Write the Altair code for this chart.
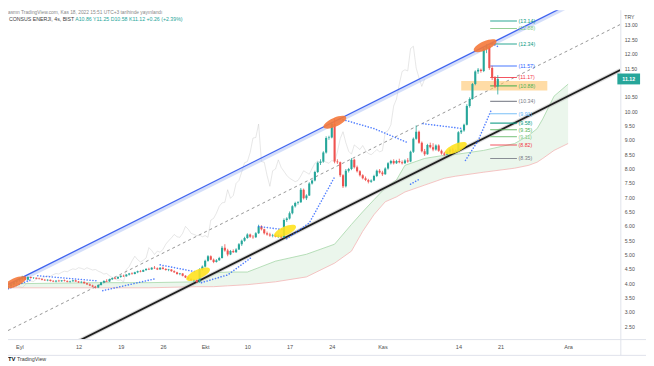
import altair as alt
import pandas as pd

# ---------------- data ----------------
# 4h bars of CONSUS ENERJI (BIST), 3 bars per trading day, bar 0 = 1 Sep 2022 first bar
first_bar = -4
opens = [
    3.86, 3.90, 3.96, 4.04, 4.10, 4.16, 4.22, 4.12, 4.22, 4.18,
    4.19, 4.16, 4.15, 4.12, 4.10, 4.12, 4.08, 4.06, 4.09, 4.07,
    4.10, 4.08, 4.05, 4.07, 4.10, 4.06, 4.03, 4.05, 4.00, 3.96,
    3.92, 3.88, 3.85, 3.94, 4.03, 4.08, 4.06, 4.14, 4.18, 4.16,
    4.22, 4.26, 4.24, 4.30, 4.34, 4.32, 4.38, 4.42, 4.40, 4.46,
    4.50, 4.48, 4.54, 4.52, 4.48, 4.54, 4.50, 4.46, 4.48, 4.42,
    4.38, 4.32, 4.34, 4.26, 4.20, 4.15, 4.10, 4.12, 4.04, 4.48,
    4.58, 4.78, 4.94, 4.82, 4.74, 4.80, 4.88, 5.24, 5.14, 5.00,
    5.12, 5.08, 5.18, 5.36, 5.48, 5.58, 5.70, 5.62, 5.60, 5.74,
    5.98, 5.88, 5.74, 5.70, 5.66, 5.68, 5.62, 5.66, 5.60, 6.20,
    6.26, 6.44, 6.68, 6.80, 6.82, 7.26, 6.96, 7.06, 7.48, 7.58,
    7.88, 8.20, 8.24, 8.56, 9.06, 9.08, 9.55, 8.24, 8.22, 7.76,
    7.38, 7.92, 7.98, 8.30, 8.04, 7.90, 7.76, 7.66, 7.60, 7.54,
    7.58, 7.74, 7.92, 7.86, 7.80, 8.00, 8.18, 8.26, 8.18, 8.26,
    8.22, 8.18, 8.28, 8.24, 8.58, 9.04, 9.28, 8.90, 8.60, 8.50,
    8.82, 8.74, 8.66, 8.80, 8.62, 8.52, 8.48, 8.56, 8.66, 8.58,
    8.62, 9.26, 9.32, 9.52, 10.18, 10.42, 10.94, 11.38, 11.44, 11.40,
    12.18, 12.26, 11.50, 11.16, 10.86,
]
highs = [
    3.92, 3.98, 4.06, 4.12, 4.20, 4.26, 4.25, 4.24, 4.23, 4.21,
    4.20, 4.19, 4.17, 4.15, 4.14, 4.13, 4.11, 4.10, 4.12, 4.11,
    4.13, 4.10, 4.09, 4.12, 4.12, 4.08, 4.07, 4.06, 4.02, 3.99,
    3.95, 3.91, 3.96, 4.05, 4.10, 4.14, 4.16, 4.20, 4.22, 4.24,
    4.28, 4.30, 4.32, 4.36, 4.38, 4.40, 4.44, 4.46, 4.48, 4.52,
    4.54, 4.56, 4.60, 4.55, 4.56, 4.58, 4.52, 4.50, 4.49, 4.45,
    4.40, 4.36, 4.35, 4.28, 4.23, 4.18, 4.14, 4.13, 4.52, 4.62,
    4.82, 4.98, 4.97, 4.86, 4.84, 4.92, 5.30, 5.36, 5.20, 5.16,
    5.18, 5.22, 5.40, 5.52, 5.62, 5.74, 5.73, 5.68, 5.78, 6.04,
    6.02, 5.90, 5.80, 5.76, 5.72, 5.72, 5.70, 5.70, 6.26, 6.30,
    6.50, 6.72, 6.84, 6.86, 7.32, 7.30, 7.10, 7.52, 7.62, 7.92,
    8.24, 8.32, 8.60, 9.12, 9.14, 9.62, 9.75, 8.32, 8.24, 7.80,
    7.98, 8.02, 8.36, 8.34, 8.10, 7.94, 7.80, 7.72, 7.64, 7.62,
    7.78, 7.96, 7.98, 7.92, 8.04, 8.22, 8.30, 8.32, 8.30, 8.34,
    8.28, 8.32, 8.36, 8.62, 9.08, 9.50, 9.32, 8.94, 8.68, 8.86,
    8.90, 8.88, 8.84, 8.84, 8.66, 8.58, 8.60, 8.70, 8.72, 8.66,
    9.30, 9.36, 9.56, 10.24, 10.48, 10.98, 11.42, 11.50, 11.48, 12.22,
    12.34, 12.30, 11.58, 11.22, 11.25,
]
lows = [
    3.82, 3.88, 3.94, 4.00, 4.06, 4.12, 4.10, 4.10, 4.16, 4.15,
    4.14, 4.13, 4.10, 4.08, 4.07, 4.06, 4.04, 4.03, 4.05, 4.05,
    4.06, 4.03, 4.02, 4.05, 4.05, 4.01, 4.00, 3.98, 3.94, 3.90,
    3.86, 3.82, 3.83, 3.92, 4.00, 4.04, 4.05, 4.11, 4.14, 4.15,
    4.19, 4.22, 4.23, 4.27, 4.30, 4.31, 4.35, 4.38, 4.39, 4.43,
    4.46, 4.47, 4.50, 4.46, 4.47, 4.48, 4.44, 4.42, 4.40, 4.36,
    4.30, 4.28, 4.24, 4.18, 4.13, 4.08, 4.05, 4.02, 4.02, 4.44,
    4.55, 4.75, 4.80, 4.70, 4.72, 4.78, 4.86, 5.10, 4.94, 4.98,
    5.06, 5.06, 5.16, 5.30, 5.45, 5.55, 5.58, 5.55, 5.58, 5.72,
    5.84, 5.70, 5.66, 5.62, 5.60, 5.60, 5.58, 5.56, 5.58, 6.14,
    6.22, 6.40, 6.64, 6.74, 6.80, 6.92, 6.90, 7.04, 7.44, 7.55,
    7.84, 8.12, 8.20, 8.52, 9.00, 9.05, 8.18, 8.16, 7.70, 7.32,
    7.34, 7.86, 7.94, 8.00, 7.86, 7.72, 7.62, 7.56, 7.48, 7.50,
    7.56, 7.70, 7.82, 7.74, 7.78, 7.96, 8.14, 8.14, 8.16, 8.18,
    8.14, 8.16, 8.20, 8.22, 8.54, 9.00, 8.86, 8.56, 8.44, 8.48,
    8.70, 8.60, 8.62, 8.58, 8.48, 8.44, 8.46, 8.52, 8.54, 8.54,
    8.58, 9.20, 9.28, 9.50, 10.12, 10.40, 10.90, 11.30, 11.34, 11.36,
    12.02, 11.44, 11.08, 10.80, 10.58,
]
closes = [
    3.90, 3.96, 4.04, 4.10, 4.16, 4.22, 4.12, 4.22, 4.18, 4.19,
    4.16, 4.15, 4.12, 4.10, 4.12, 4.08, 4.06, 4.09, 4.07, 4.10,
    4.08, 4.05, 4.07, 4.10, 4.06, 4.03, 4.05, 4.00, 3.96, 3.92,
    3.88, 3.85, 3.94, 4.03, 4.08, 4.06, 4.14, 4.18, 4.16, 4.22,
    4.26, 4.24, 4.30, 4.34, 4.32, 4.38, 4.42, 4.40, 4.46, 4.50,
    4.48, 4.54, 4.52, 4.48, 4.54, 4.50, 4.46, 4.48, 4.42, 4.38,
    4.32, 4.34, 4.26, 4.20, 4.15, 4.10, 4.12, 4.04, 4.48, 4.58,
    4.78, 4.94, 4.82, 4.74, 4.80, 4.88, 5.24, 5.14, 5.00, 5.12,
    5.08, 5.18, 5.36, 5.48, 5.58, 5.70, 5.62, 5.60, 5.74, 5.98,
    5.88, 5.74, 5.70, 5.66, 5.68, 5.62, 5.66, 5.60, 6.20, 6.26,
    6.44, 6.68, 6.80, 6.82, 7.26, 6.96, 7.06, 7.48, 7.58, 7.88,
    8.20, 8.24, 8.56, 9.06, 9.08, 9.55, 8.24, 8.22, 7.76, 7.38,
    7.92, 7.98, 8.30, 8.04, 7.90, 7.76, 7.66, 7.60, 7.54, 7.58,
    7.74, 7.92, 7.86, 7.80, 8.00, 8.18, 8.26, 8.18, 8.26, 8.22,
    8.18, 8.28, 8.24, 8.58, 9.04, 9.28, 8.90, 8.60, 8.50, 8.82,
    8.74, 8.66, 8.80, 8.62, 8.52, 8.48, 8.56, 8.66, 8.58, 8.62,
    9.26, 9.32, 9.52, 10.18, 10.42, 10.94, 11.38, 11.44, 11.40, 12.18,
    12.26, 11.50, 11.16, 10.86, 11.12,
]
assert len(opens) == len(highs) == len(lows) == len(closes)

# x-axis date ticks (bar positions) and their labels
x_tick_bars = [0, 21, 36, 51, 66, 81, 96, 111, 129, 156, 171, 195]
x_tick_labels = ["Eyl", "12", "19", "26", "Ekt", "10", "17", "24", "Kas", "14", "21", "Ara"]
# price axis ticks (11.00 hidden behind the last-price badge)
y_tick_values = [2.5, 3.0, 3.5, 4.0, 4.5, 5.0, 5.5, 6.0, 6.5, 7.0, 7.5, 8.0,
                 8.5, 9.0, 9.5, 10.0, 10.5, 11.5, 12.0, 12.5, 13.0]

# Ichimoku cloud edges (leading spans)
cloud_bar = [-4, 28, 46, 63, 69, 74, 81, 91, 102, 112, 118, 122, 126, 130, 134,
             137, 144, 151, 155, 165, 176, 181, 184, 186, 190, 195]
cloud_top = [3.98, 4.02, 4.02, 4.05, 4.36, 4.39, 4.39, 4.77, 5.01, 5.36, 6.05, 6.49,
             6.91, 7.32, 7.60, 8.11, 8.35, 8.46, 8.49, 8.63, 8.87, 9.15, 9.39, 9.73,
             10.52, 10.94]
cloud_bot = [3.84, 3.84, 3.84, 3.88, 3.88, 3.91, 3.95, 4.05, 4.22, 4.70, 5.12, 5.81,
             6.39, 6.84, 7.01, 7.18, 7.42, 7.66, 7.73, 7.87, 8.01, 8.11, 8.22, 8.35,
             8.63, 8.87]
lag_shift = 26

# Parabolic SAR dotted segments
psar_seg = [1, 1, 2, 2, 3, 3, 4, 4, 5, 5, 5, 6, 6, 7, 7, 7, 8, 8, 8, 9, 9,
            10, 10, 11, 11, 11, 12, 12]
psar_bar = [-4, 4, 6.5, 28, 29.6, 48, 50, 63, 64.7, 74, 82.6, 85, 93.5, 95, 103, 112,
            114, 126, 138, 139, 142, 143.4, 157.5, 158.5, 163, 167.5, 168, 170]
psar_val = [3.81, 4.12, 4.26, 4.08, 3.74, 4.15, 4.64, 4.39, 4.02, 4.29, 4.91, 5.98,
            5.87, 5.55, 6.10, 7.70, 9.73, 9.39, 8.90, 7.45, 7.62, 9.56, 9.39, 8.28,
            8.97, 10.00, 12.35, 12.25]

# trend channel lines (start bar, start price, end bar, end price)
chan_name = ["upper", "middle", "lower"]
chan_b0 = [-4.07, -4.07, 18.0]
chan_p0 = [3.954, 2.35, 1.84]
chan_b1 = [213.55, 213.55, 213.55]
chan_p1 = [14.62, 13.02, 11.43]

# Fibonacci levels at the right
fib_levels = [13.14, 12.88, 12.34, 11.57, 11.17, 10.88, 10.34, 9.91, 9.58, 9.35, 9.11, 8.82, 8.35]
fib_colors = ["#089981", "#81c784", "#089981", "#2962ff", "#f23645", "#4caf50", "#787b86",
              "#64b5f6", "#089981", "#4caf50", "#81c784", "#f23645", "#787b86"]
fib_b0, fib_b1, fib_lab = 167.3, 176.8, 177.4

# highlighted zone
zone_b0, zone_b1, zone_top, zone_bot = 157.0, 187.6, 11.05, 10.72

# brush-like ellipses
ell_bar = [-1.6, 112.1, 165.5, 63.5, 94.4, 155.1]
ell_price = [4.03, 9.61, 12.28, 4.31, 5.82, 8.71]
ell_color = ["#f5793b", "#f5793b", "#f5793b", "#ffe21f", "#ffe21f", "#ffe21f"]
ell_len = [24, 25, 25, 26, 24, 24]

last_price = 11.12

# ---------------- build ----------------
X_DOM = [-4.07, 213.55]
Y_DOM = [2.053, 13.516]
xs = alt.Scale(domain=X_DOM, nice=False, zero=False)
ys = alt.Scale(domain=Y_DOM, nice=False, zero=False)
FONT = "Liberation Sans"
W, H = 620, 333

bars = list(range(first_bar, first_bar + len(opens)))
candles = pd.DataFrame({"bar": bars, "open": opens, "high": highs, "low": lows, "close": closes})
cloud = pd.DataFrame({"bar": cloud_bar, "top": cloud_top, "bot": cloud_bot})
psar = pd.DataFrame({"seg": psar_seg, "bar": psar_bar, "val": psar_val})
chan = pd.DataFrame({"name": chan_name, "b0": chan_b0, "p0": chan_p0, "b1": chan_b1, "p1": chan_p1})
fib = pd.DataFrame({"lvl": fib_levels, "col": fib_colors,
                    "txt": ["(%.2f)" % v for v in fib_levels]})
ell = pd.DataFrame({"bar": ell_bar, "p": ell_price, "col": ell_color,
                    "size": [v * v for v in ell_len]})

x_expr = "".join(f"datum.value == {b} ? '{l}' : " for b, l in zip(x_tick_bars, x_tick_labels)) + "''"

AXX = alt.Axis(values=x_tick_bars, labelExpr=x_expr, ticks=False, domain=False, grid=False,
               labelFontSize=5.6, labelFont=FONT, labelColor="#505050", labelPadding=6,
               labelOverlap=False, labelFlush=False, title=None)
AXY = alt.Axis(orient="right", values=y_tick_values, labelExpr="format(datum.value, '.2f')",
               ticks=False, domain=False, grid=False, labelFontSize=5.2, labelFont=FONT,
               labelColor="#505050", labelPadding=4, labelAlign="left", labelOverlap=False,
               labelFlush=False, title=None)

X = lambda f: alt.X(f, scale=xs, axis=AXX)
Y = lambda f: alt.Y(f, scale=ys, axis=AXY)

layers = []

# cloud
layers.append(alt.Chart(cloud).mark_area(color="#4caf50", opacity=0.11, clip=True).encode(
    x=X("bar:Q"), y=Y("top:Q"), y2="bot:Q"))
layers.append(alt.Chart(cloud).mark_line(color="#a5d6a7", strokeWidth=0.8, clip=True).encode(
    x=X("bar:Q"), y=Y("top:Q")))
layers.append(alt.Chart(cloud).mark_line(color="#f4b6b6", strokeWidth=0.8, clip=True).encode(
    x=X("bar:Q"), y=Y("bot:Q")))
# lagging span
layers.append(alt.Chart(candles).transform_calculate(lag=f"datum.bar - {lag_shift}").mark_line(
    color="#c4c4c4", strokeWidth=0.7, opacity=0.6, clip=True).encode(
    x=X("lag:Q"), y=Y("close:Q")))

# channel lines
up = chan[chan.name == "upper"]
mid = chan[chan.name == "middle"]
low = chan[chan.name == "lower"]
layers.append(alt.Chart(up).transform_calculate(q0="datum.p0 - 0.07", q1="datum.p1 - 0.07").mark_rule(
    color="#aabdf5", strokeWidth=3.5, opacity=0.5, clip=True).encode(
    x=X("b0:Q"), x2="b1:Q", y=Y("q0:Q"), y2="q1:Q"))
layers.append(alt.Chart(up).mark_rule(color="#3f63f0", strokeWidth=1.3, clip=True).encode(
    x=X("b0:Q"), x2="b1:Q", y=Y("p0:Q"), y2="p1:Q"))
layers.append(alt.Chart(mid).mark_rule(color="#8a8a8a", strokeWidth=0.9, strokeDash=[3, 3], clip=True).encode(
    x=X("b0:Q"), x2="b1:Q", y=Y("p0:Q"), y2="p1:Q"))
layers.append(alt.Chart(low).mark_rule(color="#b0b0b0", strokeWidth=4, opacity=0.45, clip=True).encode(
    x=X("b0:Q"), x2="b1:Q", y=Y("p0:Q"), y2="p1:Q"))
layers.append(alt.Chart(low).mark_rule(color="#1e1e1e", strokeWidth=1.8, clip=True).encode(
    x=X("b0:Q"), x2="b1:Q", y=Y("p0:Q"), y2="p1:Q"))

# zone
zone = pd.DataFrame({"b0": [zone_b0], "b1": [zone_b1], "t": [zone_top], "b": [zone_bot]})
layers.append(alt.Chart(zone).mark_rect(color="#ffc46b", opacity=0.6, clip=True).encode(
    x=X("b0:Q"), x2="b1:Q", y=Y("t:Q"), y2="b:Q"))

# fib levels
layers.append(alt.Chart(fib).transform_calculate(b0=str(fib_b0), b1=str(fib_b1)).mark_rule(
    strokeWidth=1.1, opacity=0.85, clip=True).encode(
    x=X("b0:Q"), x2="b1:Q", y=Y("lvl:Q"), color=alt.Color("col:N", scale=None)))
layers.append(alt.Chart(fib).transform_calculate(bl=str(fib_lab)).mark_text(
    align="left", baseline="middle", fontSize=5.3, font=FONT, clip=True).encode(
    x=X("bl:Q"), y=Y("lvl:Q"), text="txt:N", color=alt.Color("col:N", scale=None)))

# candles
candle_color = alt.condition("datum.close >= datum.open", alt.value("#26a69a"), alt.value("#ef5350"))
layers.append(alt.Chart(candles).mark_rule(strokeWidth=0.8, clip=True).encode(
    x=X("bar:Q"), y=Y("low:Q"), y2="high:Q", color=candle_color))
layers.append(alt.Chart(candles).transform_calculate(
    x1="datum.bar - 0.37", x2="datum.bar + 0.37").mark_rect(clip=True).encode(
    x=X("x1:Q"), x2="x2:Q", y=Y("open:Q"), y2="close:Q", color=candle_color))

# parabolic SAR
layers.append(alt.Chart(psar).mark_line(color="#2962ff", strokeWidth=1.6, strokeDash=[0.1, 2.85],
                                        strokeCap="round", opacity=0.8, clip=True).encode(
    x=X("bar:Q"), y=Y("val:Q"), detail="seg:N"))

# ellipses
ELL = "M-1,0A1,0.36,0,1,1,1,0A1,0.36,0,1,1,-1,0Z"
layers.append(alt.Chart(ell).mark_point(shape=ELL, filled=True, opacity=0.9, strokeWidth=0,
                                        angle=336, clip=True).encode(
    x=X("bar:Q"), y=Y("p:Q"), color=alt.Color("col:N", scale=None),
    size=alt.Size("size:Q", scale=None)))

# separators
one = pd.DataFrame({"a": [0]})
layers.append(alt.Chart(one).mark_rule(color="#e0e3eb", strokeWidth=1).encode(
    x=alt.value(W + 0.5), y=alt.value(0), y2=alt.value(350)))
layers.append(alt.Chart(one).mark_rule(color="#e0e3eb", strokeWidth=1).encode(
    x=alt.value(0), x2=alt.value(646), y=alt.value(H + 0.5)))
layers.append(alt.Chart(one).mark_rule(color="#e0e3eb", strokeWidth=1).encode(
    x=alt.value(0), x2=alt.value(646), y=alt.value(349.5)))

# last-price badge
badge = pd.DataFrame({"p": [last_price], "t": ["%.2f" % last_price],
                      "hi": [last_price + 0.19], "lo": [last_price - 0.19]})
layers.append(alt.Chart(badge).mark_rect(color="#26a69a").encode(
    x=alt.value(617), x2=alt.value(640), y=Y("hi:Q"), y2="lo:Q"))
layers.append(alt.Chart(badge).mark_text(color="white", fontSize=5.3, font=FONT, fontWeight="bold",
                                         align="center", baseline="middle").encode(
    x=alt.value(628.5), y=Y("p:Q"), text="t:N"))


def label(txt, px, py, color, size, weight="normal", align="left", baseline="middle"):
    return alt.Chart(pd.DataFrame({"t": [txt]})).mark_text(
        color=color, fontSize=size, font=FONT, fontWeight=weight, align=align, baseline=baseline
    ).encode(x=alt.value(px), y=alt.value(py), text="t:N")


layers.append(label("asmn TradingView.com, Kas 18, 2022 15:51 UTC+3 tarihinde yayınlandı",
                    0, 3, "#8a8a8a", 4.9))
layers.append(label("CONSUS ENERJI, 4s, BIST", 1, 8.5, "#3c3c3c", 5.3))
layers.append(label("A10.86 Y11.25 D10.58 K11.12 +0.26 (+2.39%)", 68, 8.5, "#26a69a", 5.3))
layers.append(label("TRY", 624, 6.5, "#505050", 5.2))
layers.append(label("TV", 0, 353, "#131722", 6, weight="bold"))
layers.append(label("TradingView", 9, 353, "#3c3c3c", 5.4))

chart = alt.layer(*layers).properties(
    width=W, height=H,
    autosize=alt.AutoSizeParams(type="none"),
    padding={"left": 0, "top": 0, "right": 26, "bottom": 25},
    background="white",
).configure_view(strokeWidth=0)

chart.save("out.html", embed_options={"renderer": "svg", "actions": False})
